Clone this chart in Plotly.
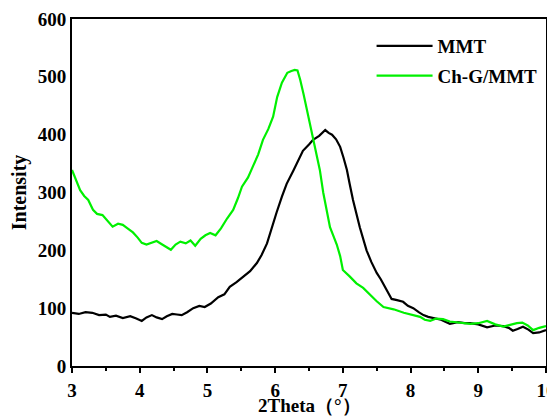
import plotly.graph_objects as go

mmt_x = [3.0, 3.1, 3.2, 3.3, 3.4, 3.5, 3.56, 3.65, 3.75, 3.86, 3.95, 4.03, 4.1, 4.18, 4.25, 4.33, 4.4, 4.48, 4.55, 4.62, 4.7, 4.79, 4.88, 4.96, 5.05, 5.16, 5.25, 5.33, 5.43, 5.53, 5.63, 5.73, 5.8, 5.88, 5.95, 6.02, 6.1, 6.17, 6.27, 6.35, 6.41, 6.5, 6.56, 6.65, 6.74, 6.79, 6.84, 6.9, 6.96, 7.01, 7.06, 7.1, 7.15, 7.25, 7.35, 7.42, 7.5, 7.56, 7.62, 7.72, 7.8, 7.89, 7.96, 8.04, 8.12, 8.19, 8.26, 8.33, 8.45, 8.58, 8.7, 8.8, 8.88, 9.0, 9.13, 9.25, 9.37, 9.45, 9.51, 9.58, 9.66, 9.74, 9.81, 9.9, 10.0]
mmt_y = [92, 90, 93, 92, 88, 89, 85, 87, 83, 86, 82, 78, 84, 88, 84, 81, 86, 90, 89, 88, 93, 100, 104, 102, 108, 119, 124, 137, 145, 154, 164, 178, 192, 212, 240, 265, 293, 315, 338, 358, 372, 383, 391, 398, 408, 403, 400, 392, 379, 360, 339, 315, 287, 240, 200, 180, 161, 150, 137, 116, 114, 111, 104, 100, 93, 88, 85, 83, 80, 73, 76, 74, 74, 72, 67, 70, 69, 66, 61, 64, 68, 63, 57, 58, 62]

chg_x = [3.0, 3.06, 3.12, 3.18, 3.24, 3.31, 3.37, 3.45, 3.52, 3.6, 3.68, 3.75, 3.82, 3.9, 3.97, 4.03, 4.1, 4.18, 4.25, 4.32, 4.4, 4.46, 4.53, 4.6, 4.68, 4.75, 4.82, 4.9, 4.97, 5.04, 5.12, 5.2, 5.29, 5.38, 5.45, 5.51, 5.6, 5.67, 5.75, 5.82, 5.9, 5.97, 6.03, 6.1, 6.18, 6.24, 6.29, 6.33, 6.37, 6.42, 6.47, 6.52, 6.56, 6.61, 6.66, 6.71, 6.77, 6.81, 6.86, 6.91, 6.96, 7.0, 7.1, 7.2, 7.3, 7.4, 7.5, 7.6, 7.75, 7.9, 8.02, 8.14, 8.21, 8.29, 8.38, 8.48, 8.58, 8.69, 8.78, 8.88, 9.0, 9.13, 9.25, 9.37, 9.47, 9.57, 9.65, 9.73, 9.81, 9.9, 10.0]
chg_y = [339, 320, 304, 294, 287, 270, 263, 261, 252, 241, 246, 244, 238, 231, 222, 213, 210, 213, 216, 211, 206, 201, 210, 215, 212, 217, 208, 220, 226, 230, 226, 238, 255, 270, 290, 310, 326, 344, 366, 391, 410, 431, 465, 490, 507, 510, 512, 511, 495, 470, 443, 420, 396, 368, 339, 300, 265, 240, 225, 210, 190, 166, 155, 143, 135, 123, 112, 102, 98, 92, 88, 85, 80, 78, 82, 81, 77, 76, 75, 73, 74, 78, 72, 68, 71, 74, 75, 70, 62, 66, 69]

x_ticks = [3, 4, 5, 6, 7, 8, 9, 10]
y_ticks = [0, 100, 200, 300, 400, 500, 600]

font_family = "Liberation Serif, Times New Roman, serif"

fig = go.Figure()
fig.add_trace(go.Scatter(x=mmt_x, y=mmt_y, mode="lines", name="<b>MMT</b>", legendgroup="a",
                         line=dict(color="#000000", width=2.2)))
fig.add_trace(go.Scatter(x=chg_x, y=chg_y, mode="lines", name="<b>Ch-G/MMT</b>", legendgroup="b",
                         line=dict(color="#00f000", width=2.2)))

# the page body has an 8px margin, so the figure is sized to fit the window
fig.update_layout(
    width=547, height=408,
    margin=dict(l=64, r=9, t=11, b=50, autoexpand=False),
    paper_bgcolor="white", plot_bgcolor="white",
    font=dict(family=font_family, size=19, color="black"),
    showlegend=True,
    legend=dict(x=0.632, y=0.977, xanchor="left", yanchor="top",
                bgcolor="rgba(0,0,0,0)", borderwidth=0, itemwidth=56,
                font=dict(family=font_family, size=19, color="black"),
                tracegroupgap=2),
    xaxis=dict(range=[3, 10], tickvals=x_ticks, ticktext=[f"<b>{v}</b>" for v in x_ticks],
               showgrid=False, zeroline=False, showline=True, linecolor="black", linewidth=2,
               mirror=True, ticks="outside", ticklen=5, tickwidth=2, tickcolor="black",
               minor=dict(dtick=0.5, ticks="outside", ticklen=3, tickwidth=2, tickcolor="black"),
               ticklabelstandoff=1, ticklabeloverflow="allow",
               tickfont=dict(size=19), automargin=False),
    yaxis=dict(range=[0, 600], tickvals=y_ticks, ticktext=[f"<b>{v}</b>" for v in y_ticks],
               showgrid=False, zeroline=False, showline=True, linecolor="black", linewidth=2,
               mirror=True, ticks="", ticklen=0,
               title=dict(text="<b>Intensity</b>", font=dict(size=20), standoff=9),
               tickfont=dict(size=19), automargin=False),
    annotations=[dict(text="<b>2Theta（°）</b>", xref="paper", yref="paper",
                      x=0.5, y=-0.115, xanchor="center", yanchor="middle",
                      showarrow=False, font=dict(family=font_family, size=19, color="black"))],
)

fig.write_html("out.html")
